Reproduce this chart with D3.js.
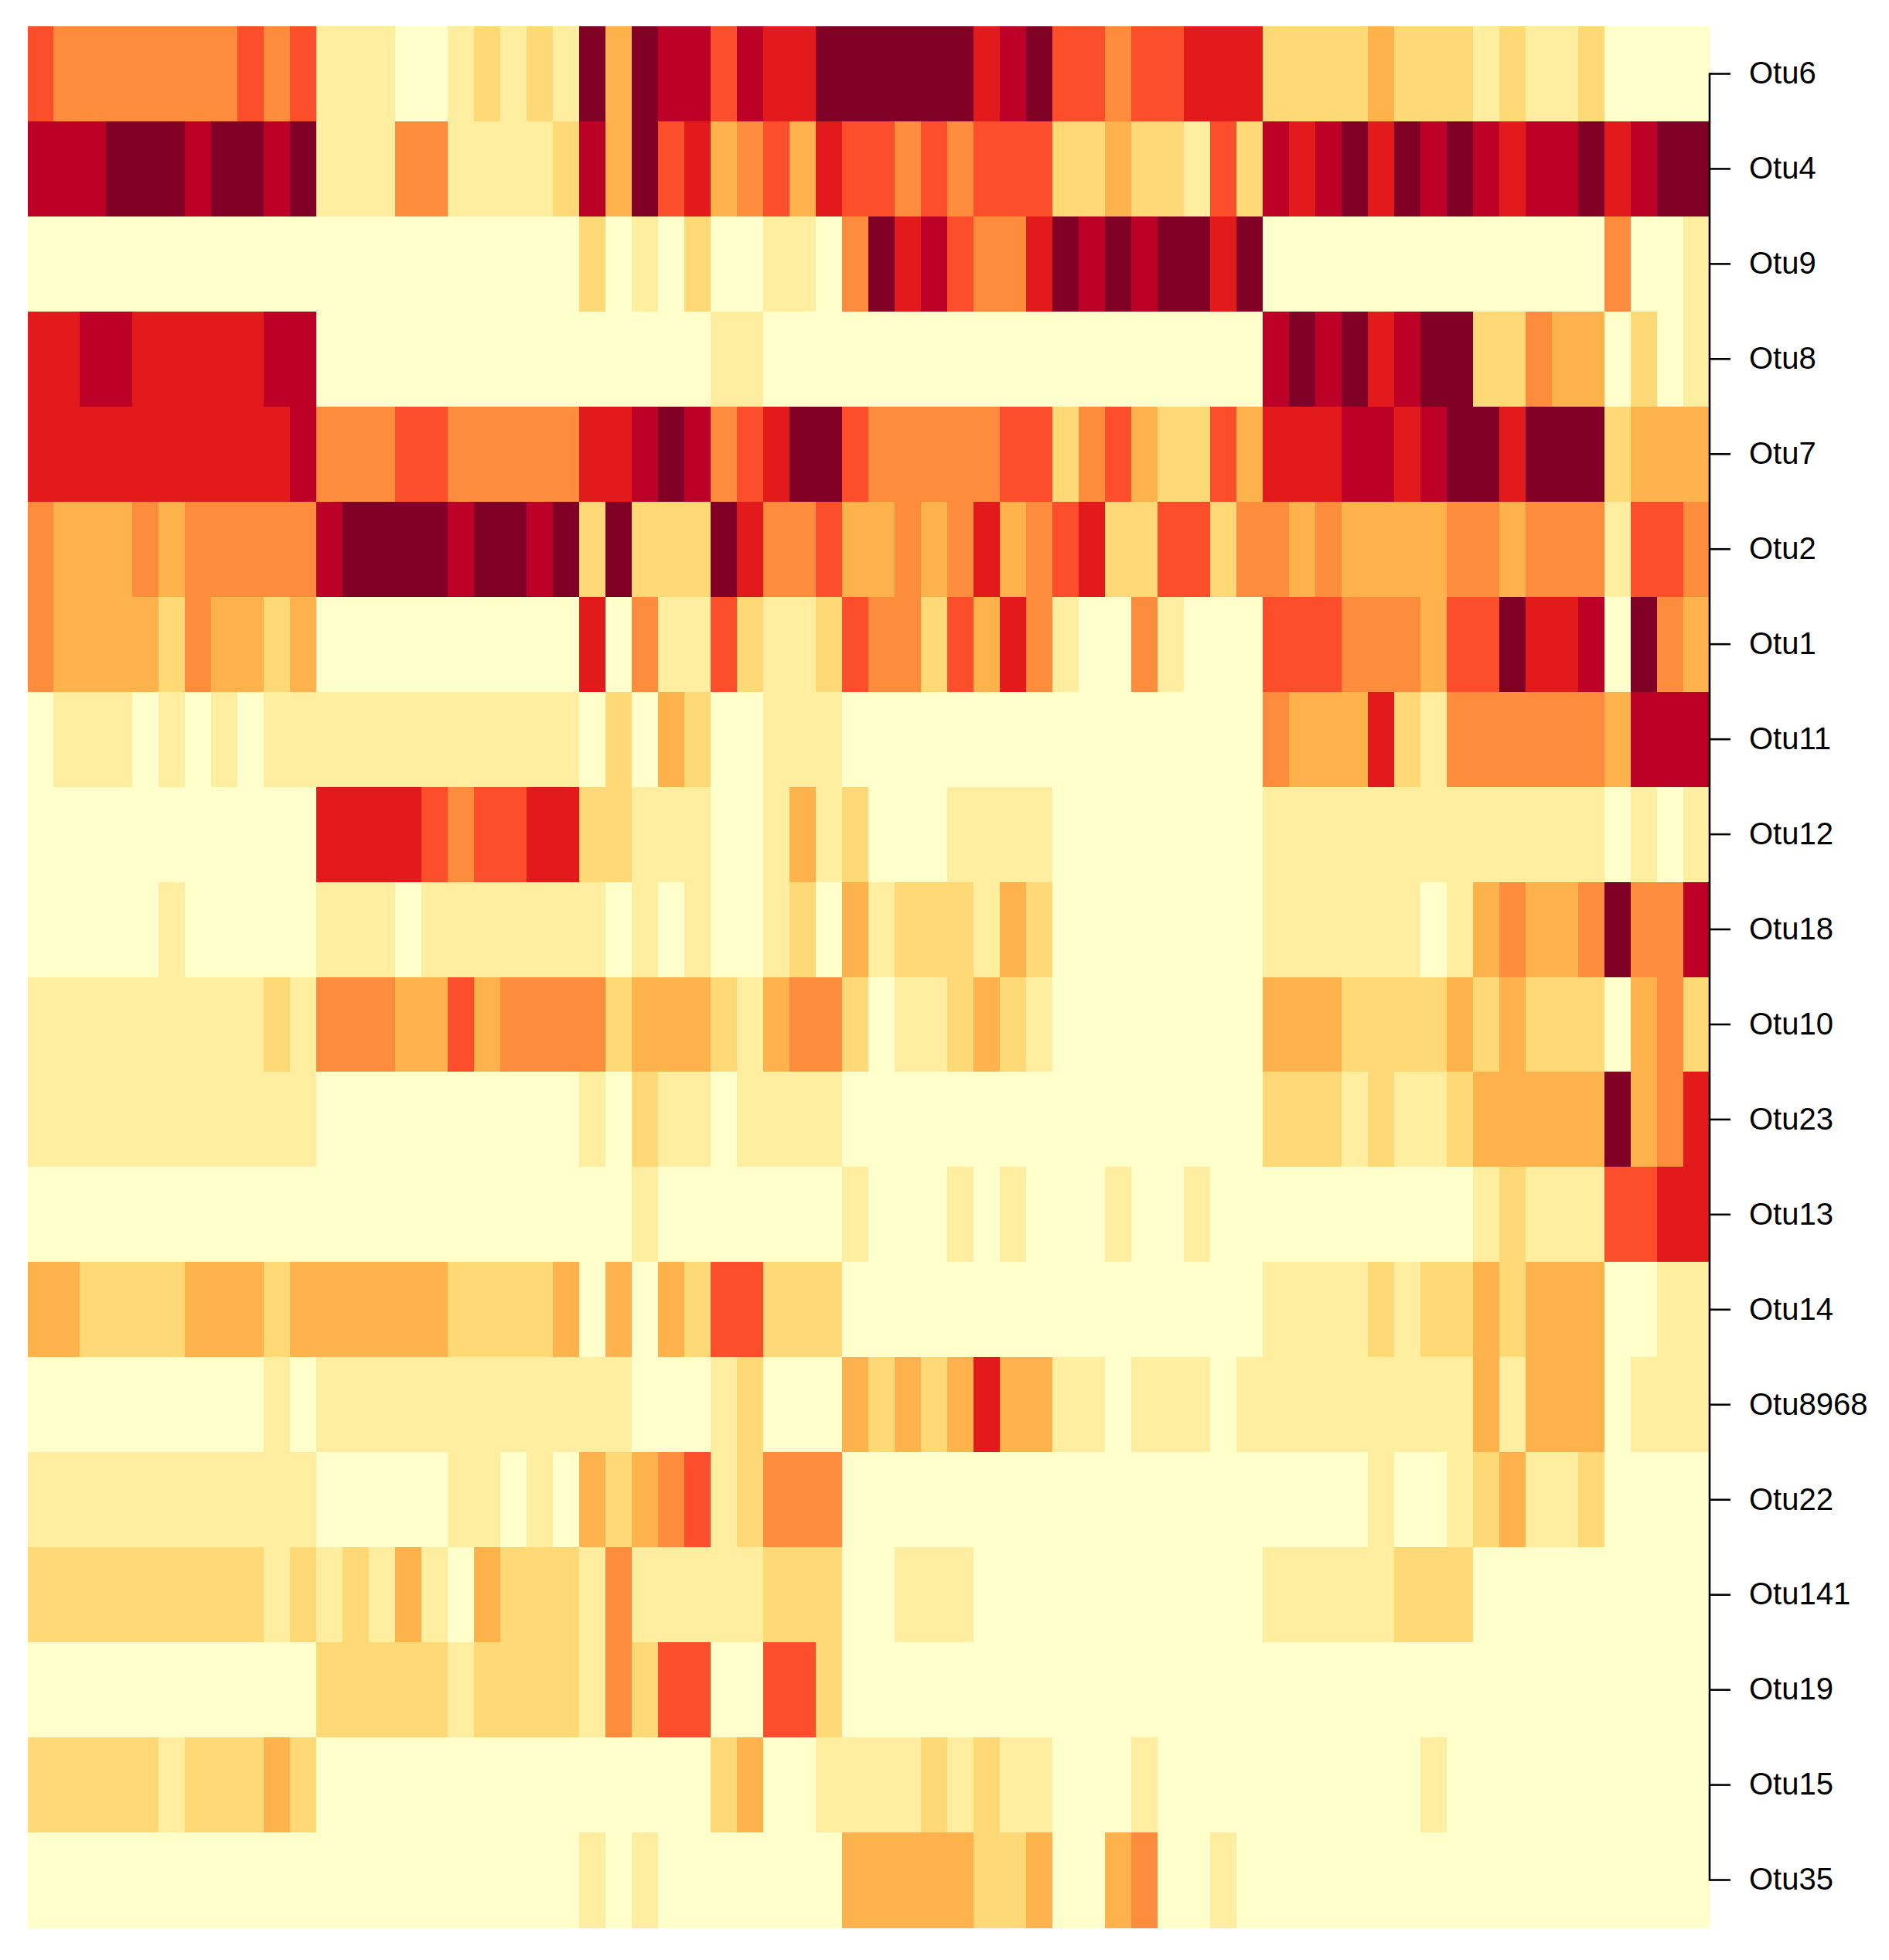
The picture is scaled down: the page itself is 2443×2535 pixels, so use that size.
<!DOCTYPE html>
<html>
<head>
<meta charset="utf-8">
<script src="https://cdn.jsdelivr.net/npm/d3@7/dist/d3.min.js"></script>
<style>
  html, body { margin: 0; padding: 0; background: #ffffff; }
  svg { display: block; }
</style>
</head>
<body>
<svg id="chart" width="2443" height="2535"></svg>
<script>
// ---- DATA (colour level 0..8 of the YlOrRd scale, one array per OTU row, 64 samples) ----
const otuLabels = ["Otu6","Otu4","Otu9","Otu8","Otu7","Otu2","Otu1","Otu11","Otu12","Otu18",
                   "Otu10","Otu23","Otu13","Otu14","Otu8968","Otu22","Otu141","Otu19","Otu15","Otu35"];

const otu6 = [5,4,4,4,4,4,4,4,5,4, 5,1,1,1,0,0,1,2,1,2, 1,8,3,8,7,7,5,7,6,6, 8,8,8,8,8,8,6,7,8,5, 5,4,5,5,6,6,6,2,2,2, 2,3,2,2,2,1,2,1,1,2, 0,0,0,0];
const otu4 = [7,7,7,8,8,8,7,8,8,7, 8,1,1,1,4,4,1,1,1,1, 2,7,3,8,5,6,3,4,5,3, 6,5,5,4,5,4,5,5,5,2, 2,3,2,2,1,5,2,7,6,7, 8,6,8,7,8,7,6,7,7,8, 6,7,8,8];
const otu9 = [0,0,0,0,0,0,0,0,0,0, 0,0,0,0,0,0,0,0,0,0, 0,2,0,1,0,2,0,0,1,1, 0,4,8,6,7,5,4,4,6,8, 7,8,7,8,8,6,8,0,0,0, 0,0,0,0,0,0,0,0,0,0, 4,0,0,1];
const otu8 = [6,6,7,7,6,6,6,6,6,7, 7,0,0,0,0,0,0,0,0,0, 0,0,0,0,0,0,1,1,0,0, 0,0,0,0,0,0,0,0,0,0, 0,0,0,0,0,0,0,7,8,7, 8,6,7,8,8,2,2,4,3,3, 0,2,0,1];
const otu7 = [6,6,6,6,6,6,6,6,6,6, 7,4,4,4,5,5,4,4,4,4, 4,6,6,7,8,7,4,5,6,8, 8,5,4,4,4,4,4,5,5,2, 4,5,3,2,2,5,3,6,6,6, 7,7,6,7,8,8,6,8,8,8, 2,3,3,3];
const otu2 = [4,3,3,3,4,3,4,4,4,4, 4,7,8,8,8,8,7,8,8,7, 8,2,8,2,2,2,8,6,4,4, 5,3,3,4,3,4,6,3,4,5, 6,2,2,5,5,2,4,4,3,4, 3,3,3,3,4,4,3,4,4,4, 1,5,5,4];
const otu1 = [4,3,3,3,3,2,4,3,3,2, 3,0,0,0,0,0,0,0,0,0, 0,6,0,4,1,1,5,2,1,1, 2,5,4,4,2,5,3,6,4,1, 0,0,4,1,0,0,0,5,5,5, 4,4,4,3,5,5,8,6,6,7, 0,8,4,3];
const otu11 = [0,1,1,1,0,1,0,1,0,1, 1,1,1,1,1,1,1,1,1,1, 1,0,2,0,3,2,0,0,1,1, 1,0,0,0,0,0,0,0,0,0, 0,0,0,0,0,0,0,4,3,3, 3,6,2,1,4,4,4,4,4,4, 3,7,7,7];
const otu12 = [0,0,0,0,0,0,0,0,0,0, 0,6,6,6,6,5,4,5,5,6, 6,2,2,1,1,1,0,0,1,3, 1,2,0,0,0,1,1,1,1,0, 0,0,0,0,0,0,0,1,1,1, 1,1,1,1,1,1,1,1,1,1, 0,1,0,1];
const otu18 = [0,0,0,0,0,1,0,0,0,0, 0,1,1,1,0,1,1,1,1,1, 1,1,0,1,0,1,0,0,1,2, 0,3,1,2,2,2,1,3,2,0, 0,0,0,0,0,0,0,1,1,1, 1,1,1,0,1,3,4,3,3,4, 8,4,4,7];
const otu10 = [1,1,1,1,1,1,1,1,1,2, 1,4,4,4,3,3,5,3,4,4, 4,4,2,3,3,3,2,1,3,4, 4,2,0,1,1,2,3,2,1,0, 0,0,0,0,0,0,0,3,3,3, 2,2,2,2,3,2,3,2,2,2, 0,3,4,2];
const otu23 = [1,1,1,1,1,1,1,1,1,1, 1,0,0,0,0,0,0,0,0,0, 0,1,0,2,1,1,0,1,1,1, 1,0,0,0,0,0,0,0,0,0, 0,0,0,0,0,0,0,2,2,2, 1,2,1,1,2,3,3,3,3,3, 8,3,4,6];
const otu13 = [0,0,0,0,0,0,0,0,0,0, 0,0,0,0,0,0,0,0,0,0, 0,0,0,1,0,0,0,0,0,0, 0,1,0,0,0,1,0,1,0,0, 0,1,0,0,1,0,0,0,0,0, 0,0,0,0,0,1,2,1,1,1, 5,5,6,6];
const otu14 = [3,3,2,2,2,2,3,3,3,2, 3,3,3,3,3,3,2,2,2,2, 3,0,3,0,3,2,5,5,2,2, 2,0,0,0,0,0,0,0,0,0, 0,0,0,0,0,0,0,1,1,1, 1,2,1,2,2,3,2,3,3,3, 0,0,1,1];
const otu8968 = [0,0,0,0,0,0,0,0,0,1, 0,1,1,1,1,1,1,1,1,1, 1,1,1,0,0,0,1,2,0,0, 0,3,2,3,2,3,6,3,3,1, 1,0,1,1,1,0,1,1,1,1, 1,1,1,1,1,3,1,3,3,3, 0,1,1,1];
const otu22 = [1,1,1,1,1,1,1,1,1,1, 1,0,0,0,0,0,1,1,0,1, 0,3,2,3,4,5,1,2,4,4, 4,0,0,0,0,0,0,0,0,0, 0,0,0,0,0,0,0,0,0,0, 0,1,0,0,1,2,3,1,1,2, 0,0,0,0];
const otu141 = [2,2,2,2,2,2,2,2,2,1, 2,1,2,1,3,1,0,3,2,2, 2,1,4,1,1,1,1,1,2,2, 2,0,0,1,1,1,0,0,0,0, 0,0,0,0,0,0,0,1,1,1, 1,1,2,2,2,0,0,0,0,0, 0,0,0,0];
const otu19 = [0,0,0,0,0,0,0,0,0,0, 0,2,2,2,2,2,1,2,2,2, 2,1,4,2,5,5,0,0,5,5, 2,0,0,0,0,0,0,0,0,0, 0,0,0,0,0,0,0,0,0,0, 0,0,0,0,0,0,0,0,0,0, 0,0,0,0];
const otu15 = [2,2,2,2,2,1,2,2,2,3, 2,0,0,0,0,0,0,0,0,0, 0,0,0,0,0,0,2,3,0,0, 1,1,1,1,2,1,2,1,1,0, 0,0,1,0,0,0,0,0,0,0, 0,0,0,1,0,0,0,0,0,0, 0,0,0,0];
const otu35 = [0,0,0,0,0,0,0,0,0,0, 0,0,0,0,0,0,0,0,0,0, 0,1,0,1,0,0,0,0,0,0, 0,3,3,3,3,3,2,2,3,0, 0,3,4,0,0,1,0,0,0,0, 0,0,0,0,0,0,0,0,0,0, 0,0,0,0];

const rowValues = [otu6, otu4, otu9, otu8, otu7, otu2, otu1, otu11, otu12, otu18,
                   otu10, otu23, otu13, otu14, otu8968, otu22, otu141, otu19, otu15, otu35];
const palette = ["#ffffcc","#ffeda0","#fed976","#feb24c","#fd8d3c","#fc4e2a","#e31a1c","#bd0026","#800026"];
const sampleIds = rowValues[0].map((_, i) => "S" + (i + 1));

// ---- LAYOUT ----
const plotLeft = 35.5, plotTop = 34, plotW = 2175.5, plotH = 2459;
const svg = d3.select("#chart");

const x = d3.scaleBand().domain(sampleIds).range([plotLeft, plotLeft + plotW]).padding(0);
const y = d3.scaleBand().domain(otuLabels).range([plotTop, plotTop + plotH]).padding(0);
const color = d3.scaleOrdinal().domain(d3.range(palette.length)).range(palette);

const cells = [];
rowValues.forEach((vals, r) => vals.forEach((v, c) => cells.push({ otu: otuLabels[r], sample: sampleIds[c], v })));

svg.append("g")
  .selectAll("rect")
  .data(cells)
  .join("rect")
  .attr("x", d => x(d.sample))
  .attr("y", d => y(d.otu))
  .attr("width", x.bandwidth() + 0.6)
  .attr("height", y.bandwidth() + 0.6)
  .attr("fill", d => color(d.v))
  .attr("shape-rendering", "crispEdges");

// ---- RIGHT AXIS (R style: line from first to last tick) ----
const axisX = plotLeft + plotW;
const axis = d3.axisRight(y).tickSize(27).tickPadding(24).tickSizeOuter(0);
const gAxis = svg.append("g").attr("transform", `translate(${axisX},0)`).call(axis);
gAxis.select(".domain").remove();
gAxis.selectAll(".tick line").attr("stroke", "#000").attr("stroke-width", 2.6);
gAxis.selectAll(".tick text")
  .attr("fill", "#000")
  .style("font-family", "'Liberation Sans', Arial, Helvetica, sans-serif")
  .style("font-size", "40px");
gAxis.append("line")
  .attr("x1", 0).attr("x2", 0)
  .attr("y1", y(otuLabels[0]) + y.bandwidth() / 2 - 1.3)
  .attr("y2", y(otuLabels[otuLabels.length - 1]) + y.bandwidth() / 2 + 1.3)
  .attr("stroke", "#000").attr("stroke-width", 2.6);
</script>
</body>
</html>
